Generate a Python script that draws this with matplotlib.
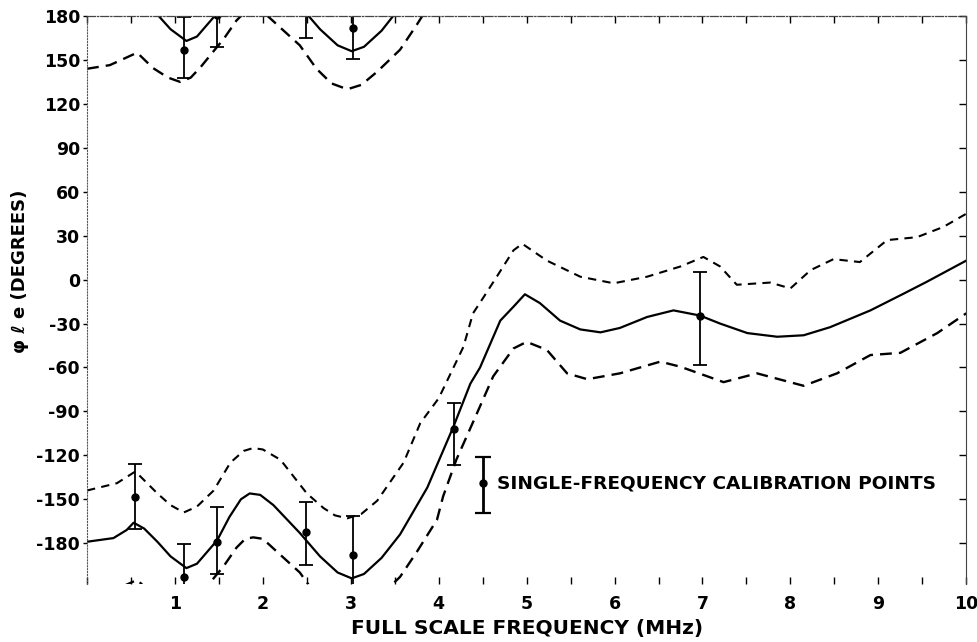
"""Phase error vs full scale frequency with single-frequency calibration points."""
import matplotlib
import numpy as np

matplotlib.use('Agg')
import matplotlib.pyplot as plt
from matplotlib.ticker import MultipleLocator

plt.rcParams['font.family'] = ['DejaVu Sans']
plt.rcParams['font.weight'] = 'bold'
plt.rcParams['axes.unicode_minus'] = False

# nominal phase curve (deg); values below -180 wrap to the top of the plot
freq_mid = [0.00, 0.30, 0.45, 0.53, 0.65, 0.80, 0.95, 1.13, 1.25, 1.48,
            1.62, 1.75, 1.85, 1.97, 2.12, 2.42, 2.65, 2.85, 3.01, 3.15,
            3.35, 3.56, 3.87, 4.17, 4.36, 4.47, 4.70, 4.85, 4.98, 5.15,
            5.38, 5.61, 5.84, 6.06, 6.37, 6.67, 6.97, 7.20, 7.51, 7.85,
            8.15, 8.45, 8.91, 9.29, 9.55, 10.0]
phase_mid = [-179, -176.5, -171, -166, -170, -179, -189, -197, -194, -178,
             -162, -150, -146, -147, -154, -173, -189, -200, -204, -201,
             -190, -174, -142, -100, -71, -60, -28, -18.5, -10, -16,
             -28, -34, -36, -33, -25.5, -21, -24.5, -30, -36.5, -39,
             -38, -32.5, -21, -9.5, -1.5, 13]

# upper tolerance bound
freq_hi = [0.00, 0.34, 0.55, 0.80, 0.95, 1.10, 1.25, 1.44, 1.63, 1.78,
           1.89, 2.00, 2.20, 2.50, 2.69, 2.82, 2.96, 3.12, 3.30, 3.60,
           3.79, 4.00, 4.28, 4.39, 4.51, 4.66, 4.85, 4.95, 5.23, 5.61,
           5.99, 6.37, 6.75, 7.01, 7.20, 7.39, 7.77, 8.00, 8.23, 8.49,
           8.79, 9.10, 9.44, 9.74, 10.0]
phase_hi = [-144, -139, -131, -146, -154, -159, -155, -144, -125, -117,
            -115, -116, -123, -146, -156, -161, -163, -160, -151, -125,
            -98, -81, -46, -23, -12, 2, 20, 24.5, 13, 2,
            -2.5, 2, 9, 15.5, 9, -3.5, -2, -6, 6.5, 14,
            12, 27, 29, 36, 45]

# lower tolerance bound
freq_lo = [0.00, 0.26, 0.57, 0.75, 0.92, 1.06, 1.18, 1.29, 1.48, 1.55,
           1.70, 1.80, 1.89, 2.00, 2.20, 2.42, 2.61, 2.78, 2.96, 3.12,
           3.30, 3.56, 3.75, 3.98, 4.05, 4.20, 4.40, 4.62, 4.85, 5.00,
           5.23, 5.46, 5.69, 6.06, 6.52, 6.75, 7.24, 7.62, 8.15, 8.53,
           8.91, 9.25, 9.67, 10.0]
phase_lo = [-216, -213.5, -205, -215.5, -222, -225, -222, -215, -201, -196,
            -183, -177, -176, -177, -188, -200, -216, -226, -230, -227,
            -218, -203, -186, -164, -148, -123, -96, -66, -47, -42.5,
            -48, -64, -68, -64, -56, -59.5, -70, -64, -72.5, -64,
            -51.5, -50, -36.5, -23]

# single-frequency calibration points: freq, phase, lower end, upper end
cal_freq = [0.55, 1.10, 1.48, 2.49, 3.02, 4.17, 6.97]
cal_phase = [-148.5, -203, -179, -172, -188, -102, -24.5]
cal_low = [-170, -222, -201, -195, -209, -126.5, -58]
cal_high = [-126, -180.5, -155.5, -152, -161.5, -84, 5]

fig = plt.figure(figsize=(9.78, 6.42), dpi=100)
ax = fig.add_axes([0.089, 0.090, 0.899, 0.885])

# draw each curve and its +360 deg wrapped copy
for shift in (0, 360):
    ax.plot(freq_mid, np.array(phase_mid) + shift, color='black', lw=1.6)
    ax.plot(freq_hi, np.array(phase_hi) + shift, color='black', lw=1.5,
            linestyle=(0, (4, 3)))
    ax.plot(freq_lo, np.array(phase_lo) + shift, color='black', lw=1.7,
            linestyle=(0, (5, 3)))
    p = np.array(cal_phase) + shift
    yerr = [p - (np.array(cal_low) + shift), (np.array(cal_high) + shift) - p]
    ax.errorbar(cal_freq, p, yerr=yerr, fmt='o', color='black', ms=5,
                elinewidth=1.3, capsize=5, capthick=1.3)

# key
ax.errorbar([4.5], [-139], yerr=[[20.5], [18]], fmt='o', color='black', ms=5,
            elinewidth=2.0, capsize=6, capthick=1.6)
ax.text(4.66, -139, 'SINGLE-FREQUENCY CALIBRATION POINTS', fontsize=13.3,
        fontweight='bold', va='center', ha='left')

ax.set_xlim(0, 10)
ax.set_ylim(-208, 180)
ax.set_xticks(range(1, 11))
ax.xaxis.set_minor_locator(MultipleLocator(0.5))
ax.set_yticks(range(-180, 181, 30))

ax.tick_params(axis='x', which='both', direction='in', length=5, width=1,
               top=True, bottom=True, pad=8, labelsize=12.5)
ax.tick_params(axis='y', which='both', direction='out', length=3, width=1,
               pad=2, labelsize=12.5)
ax.tick_params(axis='y', which='both', right=True)
for lab in ax.get_xticklabels() + ax.get_yticklabels():
    lab.set_fontweight('bold')

# right side ticks point inward
for tl in ax.yaxis.get_ticklines()[1::2]:
    tl.set_marker(matplotlib.lines.TICKLEFT)
    tl.set_markersize(5)

ax.spines['bottom'].set_visible(False)
ax.spines['left'].set_linestyle(':')
ax.spines['left'].set_linewidth(0.8)
ax.spines['left'].set_color('#555555')
ax.spines['top'].set_linestyle('-.')
ax.spines['top'].set_linewidth(0.9)
ax.spines['top'].set_color('#444444')
ax.spines['right'].set_linewidth(0.8)
ax.spines['right'].set_color('#444444')

ax.set_xlabel('FULL SCALE FREQUENCY (MHz)', fontsize=14.5, fontweight='bold',
              labelpad=4)
ax.set_ylabel('\u03c6 \u2113 e (DEGREES)', fontsize=13, fontweight='bold')
ax.yaxis.set_label_coords(-0.066, 0.55)

fig.savefig('out.png', dpi=100)
plt.close(fig)
